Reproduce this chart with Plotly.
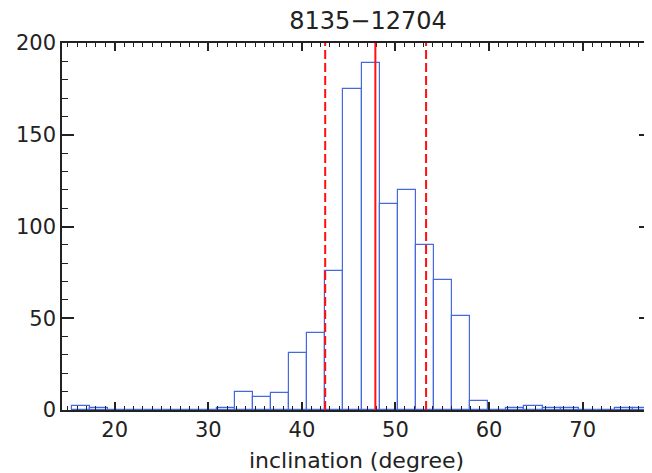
import plotly.graph_objects as go

# histogram of inclination, bins of ~1.933 deg starting at 15.45
bin_start = 15.45
bin_width = 1.933
counts = [2, 1, 0, 0, 0, 0, 0, 0, 1, 10, 7, 9, 31, 42, 76, 175, 189, 112,
          120, 90, 71, 51, 5, 0, 1, 2, 1, 1, 0, 0, 1, 1]
centers = [bin_start + bin_width * (i + 0.5) for i in range(len(counts))]

median_val = 47.85
lower_val = 42.49
upper_val = 53.27

fnt = "DejaVu Sans"
axcol = "#222222"

fig = go.Figure()
fig.add_trace(go.Bar(
    x=centers, y=counts, width=bin_width,
    marker=dict(color="rgba(0,0,0,0)", line=dict(color="#4468de", width=1.2)),
    hoverinfo="x+y", showlegend=False,
))

fig.add_shape(type="line", xref="x", yref="paper", x0=median_val, x1=median_val,
              y0=0, y1=1, line=dict(color="#ff1010", width=2))
for v in (lower_val, upper_val):
    fig.add_shape(type="line", xref="x", yref="paper", x0=v, x1=v, y0=0, y1=1,
                  line=dict(color="#ff1010", width=2, dash="9px,4px"))

# page body has an 8px margin, so the figure is a bit smaller than the window
fig.update_layout(
    width=644, height=465,
    margin=dict(l=54, r=1, t=35, b=63, autoexpand=False),
    paper_bgcolor="white", plot_bgcolor="white",
    font=dict(family=fnt, color="#222222", size=21),
    title=dict(text="8135\u221212704", x=0.559, xanchor="center",
               y=1 - 13 / 465, yanchor="middle", font=dict(size=24)),
    bargap=0,
)
fig.update_xaxes(
    range=[14.37, 77.3], showgrid=False, zeroline=False, automargin=False,
    showline=True, linecolor=axcol, linewidth=1.5, mirror="ticks",
    ticks="inside", ticklen=8, tickwidth=1.5, tickcolor=axcol,
    tickvals=[20, 30, 40, 50, 60, 70],
    minor=dict(ticks="inside", ticklen=4, dtick=1, tick0=0, tickcolor=axcol, tickwidth=1),
    tickfont=dict(size=21),
    title=dict(text="inclination (degree)", font=dict(size=22), standoff=13),
)
fig.update_yaxes(
    range=[0, 200], showgrid=False, zeroline=False, automargin=False,
    showline=True, linecolor=axcol, linewidth=1.5, mirror="ticks",
    ticks="inside", ticklen=12, tickwidth=1.5, tickcolor=axcol,
    tickvals=[0, 50, 100, 150, 200],
    minor=dict(ticks="inside", ticklen=6, dtick=10, tick0=0, tickcolor=axcol, tickwidth=1),
    tickfont=dict(size=21),
)

fig.write_html("out.html")
